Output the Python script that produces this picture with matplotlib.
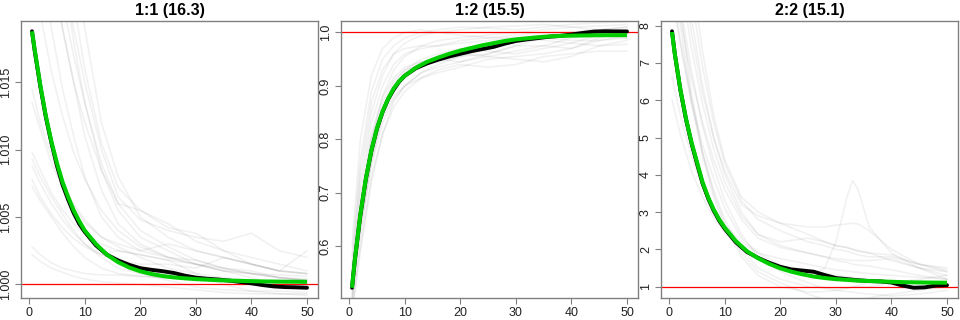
import matplotlib
matplotlib.use("Agg")
import matplotlib.pyplot as plt

plt.rcParams['font.family'] = ['Liberation Sans', 'DejaVu Sans']

titles = ["1:1 (16.3)", "1:2 (15.5)", "2:2 (15.1)"]

# x grid for the mean / fitted curves
main_x = [0.5, 1, 2, 3, 4, 5, 6, 7, 8, 9, 10, 12, 14, 16, 18, 20, 22, 24, 26,
          28, 30, 32, 34, 36, 38, 40, 42, 44, 46, 48, 50]

mean_11 = [1.0188, 1.0173, 1.0147, 1.0124, 1.0105, 1.0088, 1.0074, 1.0063, 1.0053,
           1.0045, 1.0039, 1.0029, 1.0022, 1.00178, 1.00145, 1.00120, 1.00108,
           1.00098, 1.00085, 1.00065, 1.00050, 1.00042, 1.00036, 1.00028, 1.00018,
           1.00008, 0.99995, 0.99985, 0.99980, 0.99978, 0.99975]
fit_11 = [1.0188, 1.0174, 1.0148, 1.0125, 1.0106, 1.0090, 1.0076, 1.0065, 1.0055,
          1.0047, 1.0040, 1.0030, 1.0022, 1.00165, 1.00125, 1.00097, 1.00077,
          1.00062, 1.00052, 1.00045, 1.00039, 1.00035, 1.00031, 1.00028, 1.00026,
          1.00024, 1.00022, 1.00021, 1.00020, 1.00020, 1.00019]

mean_12 = [0.5224, 0.573, 0.658, 0.726, 0.779, 0.820, 0.851, 0.875, 0.893, 0.908,
           0.919, 0.933, 0.942, 0.949, 0.955, 0.960, 0.965, 0.969, 0.973, 0.979,
           0.984, 0.987, 0.9895, 0.992, 0.9935, 0.996, 0.999, 1.0015, 1.0022,
           1.002, 1.0018]
fit_12 = [0.5224, 0.574, 0.659, 0.727, 0.780, 0.821, 0.852, 0.876, 0.895, 0.909,
          0.919, 0.934, 0.945, 0.953, 0.960, 0.966, 0.971, 0.976, 0.980, 0.984,
          0.987, 0.989, 0.991, 0.9925, 0.9935, 0.994, 0.9943, 0.9946, 0.9948,
          0.9949, 0.995]

mean_22 = [7.85, 7.25, 6.28, 5.50, 4.85, 4.30, 3.77, 3.37, 3.04, 2.77, 2.55, 2.19,
           1.93, 1.77, 1.64, 1.53, 1.46, 1.43, 1.40, 1.31, 1.23, 1.20, 1.17, 1.15,
           1.14, 1.11, 1.03, 0.97, 0.98, 1.03, 1.04]
fit_22 = [7.83, 7.25, 6.30, 5.52, 4.88, 4.34, 3.80, 3.40, 3.07, 2.80, 2.58, 2.22,
          1.95, 1.76, 1.61, 1.49, 1.40, 1.33, 1.27, 1.23, 1.20, 1.18, 1.16, 1.15,
          1.14, 1.13, 1.12, 1.115, 1.11, 1.107, 1.105]

# individual chains (gray)
chain_x = [0.5, 2, 4, 6, 8, 10, 13, 16, 20, 25, 30, 35, 40, 45, 50]
chains_11 = [
    [1.035, 1.030, 1.024, 1.019, 1.015, 1.011, 1.007, 1.0045, 1.003, 1.002, 1.0015, 1.001, 1.0008, 1.0005, 1.0004],
    [1.045, 1.038, 1.030, 1.024, 1.018, 1.0135, 1.0085, 1.0055, 1.0035, 1.0025, 1.0015, 1.001, 1.0005, 1.0, 0.9998],
    [1.028, 1.024, 1.019, 1.0145, 1.011, 1.008, 1.005, 1.0035, 1.0025, 1.003, 1.0025, 1.002, 1.0015, 1.001, 1.0008],
    [1.040, 1.034, 1.028, 1.023, 1.019, 1.015, 1.010, 1.0065, 1.0048, 1.004, 1.0035, 1.0032, 1.0038, 1.0025, 1.002],
    [1.0145, 1.012, 1.0095, 1.0075, 1.006, 1.0048, 1.0035, 1.0028, 1.002, 1.0012, 1.0008, 1.0005, 1.0003, 1.0002, 1.0001],
    [1.0135, 1.0115, 1.009, 1.0072, 1.0058, 1.0046, 1.0035, 1.003, 1.0025, 1.002, 1.0018, 1.0012, 1.001, 1.0005, 1.0003],
    [1.0098, 1.0085, 1.0068, 1.0055, 1.0045, 1.0038, 1.003, 1.0025, 1.0022, 1.0018, 1.0008, 1.0, 0.9995, 0.9993, 0.9992],
    [1.0093, 1.008, 1.0065, 1.0052, 1.004, 1.003, 1.002, 1.0012, 1.0008, 1.0003, 0.9998, 0.9996, 0.9995, 0.9995, 0.9994],
    [1.0088, 1.0075, 1.006, 1.0048, 1.0038, 1.003, 1.0022, 1.0018, 1.0015, 1.0015, 1.0012, 1.002, 1.0015, 1.001, 1.0008],
    [1.0078, 1.0065, 1.0052, 1.0042, 1.0034, 1.0028, 1.0022, 1.0025, 1.0022, 1.0018, 1.0015, 1.0012, 1.0008, 1.0007, 1.0006],
    [1.0073, 1.0062, 1.005, 1.0038, 1.0028, 1.002, 1.0012, 1.0008, 1.0006, 1.0005, 1.0004, 1.0003, 1.0003, 1.0002, 1.0002],
    [1.0028, 1.0022, 1.0016, 1.0012, 1.001, 1.0008, 1.0007, 1.0007, 1.0006, 1.0005, 1.0004, 1.0003, 1.0003, 1.0002, 1.0002],
    [1.0022, 1.0017, 1.0012, 1.0009, 1.0006, 1.0004, 1.0002, 1.0001, 1.0, 0.9998, 0.9996, 0.9994, 0.9993, 0.9993, 0.9993],
    [1.050, 1.042, 1.034, 1.027, 1.021, 1.016, 1.0105, 1.0072, 1.0055, 1.0045, 1.0032, 1.0025, 1.002, 1.0015, 1.001],
    [1.032, 1.028, 1.023, 1.019, 1.015, 1.012, 1.0085, 1.006, 1.0055, 1.0042, 1.0038, 1.0025, 1.0015, 1.001, 1.0025],
    [1.060, 1.050, 1.040, 1.032, 1.025, 1.019, 1.012, 1.008, 1.005, 1.0035, 1.0025, 1.002, 1.0015, 1.001, 1.0008],
    [1.024, 1.020, 1.0158, 1.0125, 1.0098, 1.0078, 1.0055, 1.004, 1.0028, 1.002, 1.0015, 1.001, 1.0008, 1.0005, 1.0003],
    [1.038, 1.032, 1.026, 1.021, 1.017, 1.0135, 1.009, 1.006, 1.004, 1.0028, 1.0018, 1.0012, 1.0008, 1.0005, 1.0003],
]
chains_12 = [
    [0.55, 0.72, 0.85, 0.92, 0.96, 0.98, 0.995, 1.0, 1.005, 1.01, 1.012, 1.015, 1.01, 1.012, 1.015],
    [0.50, 0.66, 0.80, 0.88, 0.93, 0.955, 0.975, 0.985, 0.99, 0.995, 1.0, 1.005, 1.01, 1.005, 1.0],
    [0.48, 0.60, 0.73, 0.81, 0.86, 0.89, 0.915, 0.925, 0.935, 0.95, 0.955, 0.96, 0.97, 0.985, 0.995],
    [0.52, 0.64, 0.76, 0.84, 0.88, 0.90, 0.915, 0.93, 0.94, 0.935, 0.94, 0.955, 0.96, 0.965, 0.965],
    [0.58, 0.76, 0.89, 0.95, 0.975, 0.99, 1.0, 1.005, 1.01, 1.008, 1.005, 1.01, 1.015, 1.018, 1.02],
    [0.51, 0.63, 0.75, 0.83, 0.875, 0.90, 0.925, 0.94, 0.955, 0.96, 0.975, 0.975, 0.97, 0.99, 1.005],
    [0.49, 0.62, 0.76, 0.85, 0.90, 0.925, 0.945, 0.95, 0.96, 0.955, 0.95, 0.945, 0.955, 0.975, 0.985],
    [0.53, 0.68, 0.81, 0.88, 0.915, 0.935, 0.945, 0.95, 0.945, 0.96, 0.975, 0.99, 0.995, 0.995, 0.99],
    [0.56, 0.74, 0.87, 0.93, 0.96, 0.97, 0.975, 0.975, 0.98, 0.985, 0.99, 0.995, 1.0, 1.005, 1.01],
    [0.50, 0.64, 0.78, 0.86, 0.905, 0.93, 0.95, 0.96, 0.97, 0.965, 0.96, 0.97, 0.98, 0.975, 0.978],
    [0.54, 0.70, 0.83, 0.90, 0.94, 0.96, 0.97, 0.975, 0.985, 0.99, 0.99, 0.985, 0.98, 0.995, 1.005],
    [0.47, 0.59, 0.72, 0.81, 0.87, 0.90, 0.925, 0.935, 0.945, 0.955, 0.965, 0.975, 0.99, 1.0, 0.998],
    [0.60, 0.80, 0.92, 0.97, 0.99, 1.0, 1.005, 1.0, 0.995, 0.99, 0.995, 1.0, 1.0, 1.005, 1.01],
    [0.52, 0.67, 0.80, 0.87, 0.91, 0.93, 0.94, 0.945, 0.955, 0.97, 0.985, 0.99, 0.985, 0.985, 0.99],
]
chain_x_22 = [0.5, 2, 4, 6, 8, 10, 13, 16, 20, 25, 28, 30, 32, 33, 34, 36, 40, 45, 50]
chains_22 = [
    [6.62, 5.6, 4.5, 3.7, 3.1, 2.65, 2.2, 1.9, 1.75, 1.6, 1.5, 1.45, 1.42, 1.4, 1.38, 1.35, 1.3, 1.25, 1.2],
    [6.0, 5.1, 4.1, 3.4, 2.85, 2.45, 2.0, 1.75, 1.55, 1.45, 1.35, 1.3, 1.27, 1.25, 1.23, 1.2, 1.15, 1.1, 1.05],
    [9.5, 8.2, 6.6, 5.4, 4.4, 3.6, 2.8, 2.3, 2.05, 1.9, 1.8, 1.75, 1.72, 1.7, 1.7, 1.7, 1.75, 1.5, 1.3],
    [11.0, 9.3, 7.4, 5.9, 4.7, 3.8, 2.9, 2.4, 2.2, 2.3, 2.2, 2.1, 2.05, 2.0, 1.95, 1.9, 1.85, 1.6, 1.45],
    [10.0, 8.6, 6.8, 5.3, 4.2, 3.3, 2.4, 1.8, 1.4, 1.1, 0.95, 0.9, 0.87, 0.85, 0.83, 0.8, 0.75, 0.8, 0.9],
    [12.0, 10.0, 7.8, 6.2, 5.0, 4.1, 3.2, 2.9, 2.7, 2.6, 2.6, 2.65, 2.68, 2.7, 2.68, 2.5, 2.0, 1.6, 1.4],
    [8.8, 7.5, 5.9, 4.6, 3.6, 2.8, 2.0, 1.5, 1.2, 1.0, 0.97, 0.95, 0.96, 0.98, 0.99, 1.0, 1.1, 1.2, 1.3],
    [9.0, 7.6, 6.0, 4.8, 3.9, 3.1, 2.3, 1.9, 1.6, 1.3, 1.5, 2.2, 3.4, 3.85, 3.6, 2.6, 1.9, 1.5, 1.2],
    [14.0, 11.5, 8.8, 6.9, 5.4, 4.3, 3.3, 2.8, 2.5, 2.2, 2.1, 2.0, 1.95, 1.9, 1.85, 1.8, 1.8, 1.6, 1.5],
    [10.5, 8.5, 6.2, 4.6, 3.5, 2.7, 1.9, 1.4, 1.1, 0.8, 0.65, 0.6, 0.6, 0.6, 0.62, 0.7, 0.8, 0.9, 1.0],
    [13.0, 10.8, 8.2, 6.4, 5.0, 4.0, 3.0, 2.4, 2.1, 1.9, 1.8, 1.7, 1.65, 1.6, 1.58, 1.55, 1.45, 1.3, 1.2],
    [9.8, 8.0, 6.0, 4.5, 3.4, 2.6, 1.8, 1.3, 1.0, 0.85, 0.87, 0.9, 0.95, 1.0, 1.03, 1.1, 1.15, 1.1, 1.05],
    [15.0, 12.5, 9.5, 7.3, 5.6, 4.4, 3.4, 3.0, 2.7, 2.4, 2.2, 2.1, 2.05, 2.0, 1.97, 1.9, 1.7, 1.5, 1.4],
]

xticks = [0, 10, 20, 30, 40, 50]
yticks_11 = [1.000, 1.005, 1.010, 1.015]
ylabels_11 = ["1.000", "1.005", "1.010", "1.015"]
yticks_12 = [0.6, 0.7, 0.8, 0.9, 1.0]
ylabels_12 = ["0.6", "0.7", "0.8", "0.9", "1.0"]
yticks_22 = [1, 2, 3, 4, 5, 6, 7, 8]
ylabels_22 = ["1", "2", "3", "4", "5", "6", "7", "8"]
target = 1.0

panels = [
    (titles[0], chain_x, chains_11, mean_11, fit_11, yticks_11, ylabels_11),
    (titles[1], chain_x, chains_12, mean_12, fit_12, yticks_12, ylabels_12),
    (titles[2], chain_x_22, chains_22, mean_22, fit_22, yticks_22, ylabels_22),
]

fig = plt.figure(figsize=(9.6, 3.2), dpi=100)
lefts = [21, 341, 661]
W, H = 297, 277
bottom = 320 - 298

box_col = '#808080'
for (title, cx, chains, mean, fit, yt, yl), left in zip(panels, lefts):
    ax = fig.add_axes([left / 960, bottom / 320, W / 960, H / 320])
    for ch in chains:
        ax.plot(cx, ch, color='black', alpha=0.055, lw=1.2, zorder=1,
                solid_joinstyle='round', solid_capstyle='round')
    ax.axhline(target, color='#ff0000', lw=0.9, zorder=2)
    ax.plot(main_x, mean, color='black', lw=2.8, zorder=3, solid_capstyle='round')
    ax.plot(main_x, fit, color='#00cd00', lw=2.9, zorder=4, solid_capstyle='butt')
    lo = min(min(mean), min(fit))
    hi = max(max(mean), max(fit))
    pad = 0.04 * (hi - lo)
    ax.set_ylim(lo - pad, hi + pad)
    ax.set_xlim(0.5 - 0.04 * 49.5, 50 + 0.04 * 49.5)
    ax.set_xticks(xticks)
    ax.set_xticklabels([str(v) for v in xticks])
    ax.set_yticks(yt)
    ax.set_yticklabels(yl, rotation=90, va='center')
    for s in ax.spines.values():
        s.set_color(box_col)
        s.set_linewidth(1.0)
    ax.tick_params(axis='both', colors=box_col, labelcolor='#222222', labelsize=9,
                   length=4, width=0.8, pad=2.5)
    ax.set_title(title, fontsize=11.5, fontweight='bold', pad=4)

fig.savefig('out.png', dpi=100)
